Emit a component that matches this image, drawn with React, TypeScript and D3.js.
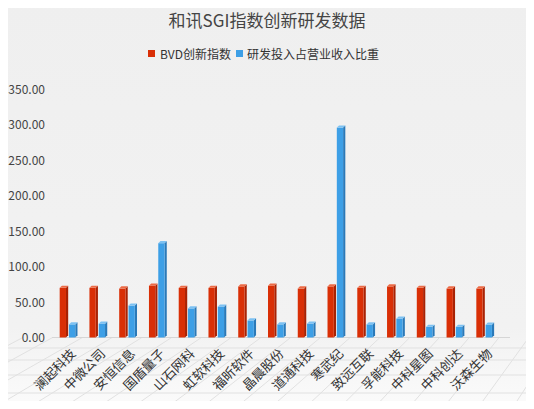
import React from "react";
import * as d3 from "d3";

const categories = ["澜起科技", "中微公司", "安恒信息", "国盾量子", "山石网科", "虹软科技", "福昕软件", "晶晨股份", "道通科技", "寒武纪", "致远互联", "孚能科技", "中科星图", "中科创达", "沃森生物"];
const bvdIndex = [70, 70, 69, 73, 70, 70, 72, 73, 69, 72, 70, 72, 70, 69, 69];
const rdRatio = [18.5, 19.5, 45, 133, 41, 43.5, 24, 18.5, 19.5, 296, 18.5, 26.5, 15, 15, 18];
const yTicks = [0, 50, 100, 150, 200, 250, 300, 350];
const seriesNames = ["BVD创新指数", "研发投入占营业收入比重"];

const W = 534;
const H = 409;
const FONT = "'Noto Sans CJK SC', 'Microsoft YaHei', sans-serif";

const red = { front: "#d92f06", side: "#a82204", top: "#ec6a45" };
const blue = { front: "#3d9fe6", side: "#2a79b8", top: "#7cc1f2" };

function Bar3D({ x, w, y0, y1, c }: { x: number; w: number; y0: number; y1: number; c: typeof red }) {
  const d = 2.2;
  return (
    <g>
      <polygon points={`${x + w},${y1} ${x + w + d},${y1 - d} ${x + w + d},${y0 - d} ${x + w},${y0}`} fill={c.side} />
      <rect x={x} y={y1} width={w} height={y0 - y1} fill={c.front} />
      <polygon points={`${x},${y1} ${x + d},${y1 - d} ${x + w + d},${y1 - d} ${x + w},${y1}`} fill={c.top} />
    </g>
  );
}

export default function App() {
  const x = d3.scaleBand<string>().domain(categories).range([52.6, 499]).padding(0);
  const y = d3.scaleLinear().domain([0, 350]).range([337.5, 89.3]);
  const bw = x.bandwidth();
  const base = y(0);

  // floor perspective
  const vp = { x: 842, y: -96 };
  const bounds = d3.range(categories.length + 4).map((i) => 52.6 + (i - 1) * bw);
  const floorYs = [348, 360, 375, 393];

  return (
    <div style={{ margin: -8 }}>
      <svg width={W} height={H} style={{ display: "block", fontFamily: FONT }}>
        <defs>
          <linearGradient id="bg" x1="0" y1="0" x2="0" y2="1">
            <stop offset="0" stopColor="#efefef" />
            <stop offset="0.8" stopColor="#f2f2f2" />
            <stop offset="1" stopColor="#fbfbfb" />
          </linearGradient>
        </defs>
        <rect width={W} height={H} fill="url(#bg)" />
        {/* floor */}
        <g stroke="#e1e1e1" strokeWidth={1}>
          {floorYs.map((fy, i) => (
            <line key={"h" + i} x1={0} x2={W} y1={fy} y2={fy} />
          ))}
          {bounds.map((bx, i) => {
            const t = (H - base) / (base - vp.y);
            const ex = bx + (bx - vp.x) * t;
            return <line key={"d" + i} x1={bx} y1={base} x2={ex} y2={H} />;
          })}
        </g>
        <line x1={52} x2={510} y1={base} y2={base} stroke="#d6d6d6" />
        {/* title */}
        <text x={W / 2} y={27} textAnchor="middle" fontSize={17} fill="#444">
          和讯SGI指数创新研发数据
        </text>
        {/* legend */}
        <rect x={148} y={50} width={7} height={7} fill={red.front} />
        <text x={160} y={58.5} fontSize={12} fill="#333">{seriesNames[0]}</text>
        <rect x={236} y={50} width={7} height={7} fill={blue.front} />
        <text x={247} y={58.5} fontSize={12} fill="#333">{seriesNames[1]}</text>
        {/* y axis labels */}
        {yTicks.map((t) => (
          <text key={t} x={45} y={y(t) + 4.5} textAnchor="end" fontSize={12} fill="#444">
            {d3.format(".2f")(t)}
          </text>
        ))}
        {/* bars */}
        {categories.map((c, i) => {
          const cx = (x(c) as number) + bw / 2;
          return (
            <g key={c}>
              <Bar3D x={cx - 7.8} w={6.3} y0={base} y1={y(bvdIndex[i])} c={red} />
              <Bar3D x={cx + 1.5} w={6.3} y0={base} y1={y(rdRatio[i])} c={blue} />
            </g>
          );
        })}
        {/* x labels */}
        {categories.map((c) => {
          const cx = (x(c) as number) + bw / 2;
          return (
            <text
              key={"l" + c}
              transform={`translate(${cx + 9},${base + 17}) rotate(-45)`}
              textAnchor="end"
              fontSize={13}
              fill="#333"
            >
              {c}
            </text>
          );
        })}
      </svg>
    </div>
  );
}
